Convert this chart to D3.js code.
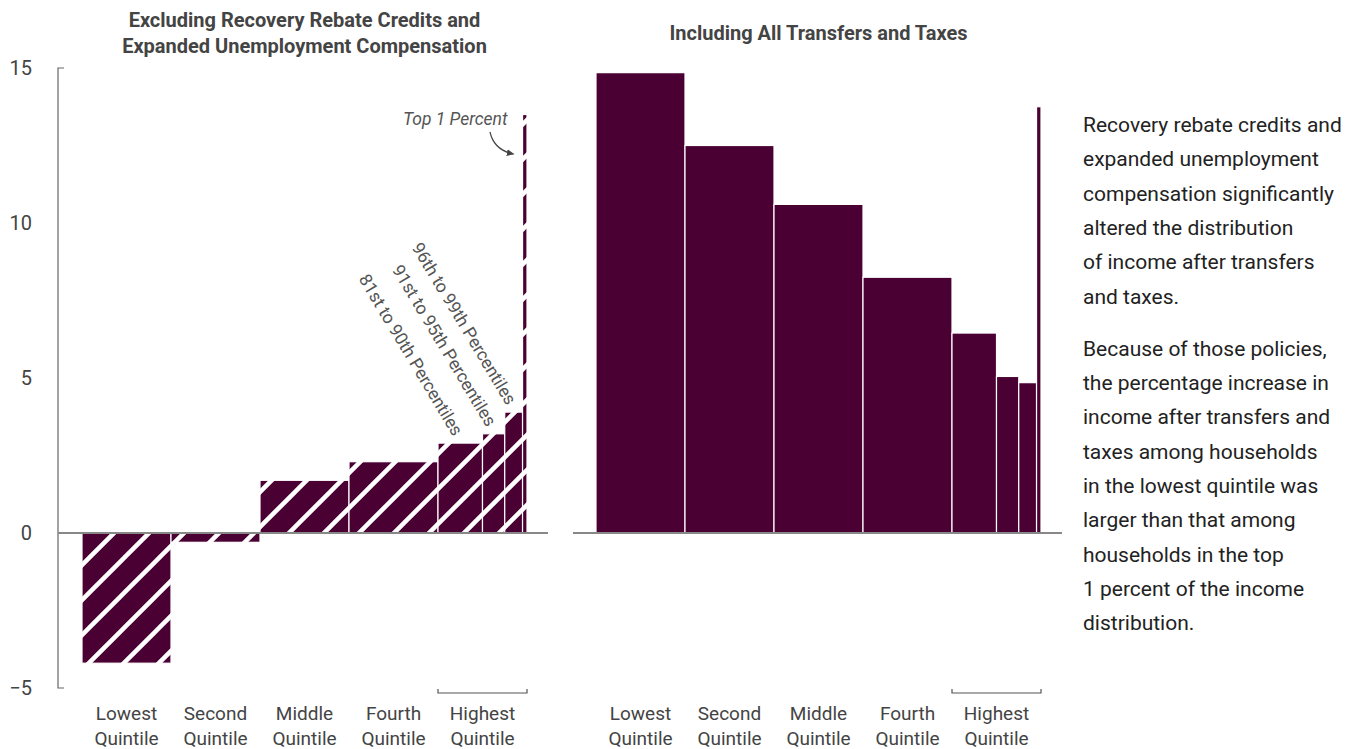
<!DOCTYPE html>
<html>
<head>
<meta charset="utf-8">
<script src="https://cdn.jsdelivr.net/npm/d3@7"></script>
<style>
  body { margin: 0; background: #fff; }
  text { font-family: Roboto, "Noto Sans", sans-serif; }
</style>
</head>
<body>
<div id="chart"></div>
<script>
// income groups, their population shares (percent) and percentage change in income
const quintiles = ['Lowest', 'Second', 'Middle', 'Fourth', 'Highest'];
const segments = ['Lowest', 'Second', 'Middle', 'Fourth',
  '81st to 90th Percentiles', '91st to 95th Percentiles', '96th to 99th Percentiles', 'Top 1 Percent'];
const shares = [20, 20, 20, 20, 10, 5, 4, 1];
const excluding = [-4.2, -0.3, 1.7, 2.3, 2.9, 3.2, 3.9, 13.5];
const including = [14.85, 12.5, 10.6, 8.25, 6.45, 5.05, 4.85, 13.75];
const yTicks = [-5, 0, 5, 10, 15];
const titles = [['Excluding Recovery Rebate Credits and', 'Expanded Unemployment Compensation'],
  ['Including All Transfers and Taxes']];
const note = [
  ['Recovery rebate credits and', 'expanded unemployment', 'compensation significantly',
   'altered the distribution', 'of income after transfers', 'and taxes.'],
  ['Because of those policies,', 'the percentage increase in', 'income after transfers and',
   'taxes among households', 'in the lowest quintile was', 'larger than that among',
   'households in the top', '1 percent of the income', 'distribution.']
];

const W = 1366, H = 749;
const barColor = '#4a0033';
const textColor = '#444';

const svg = d3.select('#chart').append('svg')
  .attr('width', W).attr('height', H);
const defs = svg.append('defs');

const hatch = defs.append('pattern')
  .attr('id', 'hatch')
  .attr('patternUnits', 'userSpaceOnUse')
  .attr('x', 17).attr('y', 0)
  .attr('width', 35).attr('height', 35);
hatch.append('rect').attr('width', 35).attr('height', 35).attr('fill', barColor);
hatch.append('path')
  .attr('d', 'M-5,40 L40,-5 M-5,5 L5,-5 M30,40 L40,30')
  .attr('stroke', '#fff').attr('stroke-width', 4.5);

defs.append('marker')
  .attr('id', 'arrow')
  .attr('viewBox', '0 0 10 10')
  .attr('refX', 8).attr('refY', 5)
  .attr('markerWidth', 7).attr('markerHeight', 7)
  .attr('orient', 'auto')
  .append('path').attr('d', 'M0,1 L9,5 L0,9 Z').attr('fill', '#444');

const y = d3.scaleLinear().domain([-5, 15]).range([688, 68]);

// cumulative positions along 0..100 percent of households
const starts = shares.map((s, i) => d3.sum(shares.slice(0, i)));
const rows = (vals) => segments.map((name, i) => ({name, start: starts[i], share: shares[i], value: vals[i]}));

// y axis
const yAxis = svg.append('g')
  .attr('transform', 'translate(58,0)')
  .call(d3.axisLeft(y).tickValues(yTicks).tickSize(0).tickPadding(26)
    .tickFormat(d => d < 0 ? '\u2212' + Math.abs(d) : d));
yAxis.select('.domain').remove();
yAxis.selectAll('text').attr('font-size', 20).attr('fill', textColor)
  .attr('font-family', 'Roboto, sans-serif');
svg.append('path')
  .attr('d', `M64,${y(15)} H58 V${y(-5)} H64`)
  .attr('fill', 'none').attr('stroke', '#666').attr('stroke-width', 1.2);

function panel(cfg) {
  const x = d3.scaleLinear().domain([0, 100]).range(cfg.range);
  const g = svg.append('g');

  g.selectAll('rect.bar')
    .data(rows(cfg.values))
    .join('rect')
    .attr('class', 'bar')
    .attr('x', d => x(d.start))
    .attr('width', d => x(d.start + d.share) - x(d.start))
    .attr('y', d => y(Math.max(0, d.value)))
    .attr('height', d => Math.abs(y(d.value) - y(0)))
    .attr('fill', cfg.fill)
    .attr('stroke', '#fff').attr('stroke-width', 1.2);

  g.append('line')
    .attr('x1', cfg.zero[0]).attr('x2', cfg.zero[1])
    .attr('y1', y(0)).attr('y2', y(0))
    .attr('stroke', '#888').attr('stroke-width', 2);

  // title
  const cx = (cfg.range[0] + cfg.range[1]) / 2;
  const t = g.append('text')
    .attr('x', cx).attr('text-anchor', 'middle')
    .attr('font-size', 20).attr('font-weight', 700).attr('fill', textColor);
  cfg.title.forEach((line, i) => {
    t.append('tspan').attr('x', cx)
      .attr('y', (cfg.title.length === 1 ? 40 : 27) + i * 26)
      .text(line);
  });

  // quintile labels
  quintiles.forEach((q, i) => {
    const lbl = g.append('text')
      .attr('text-anchor', 'middle').attr('font-size', 19).attr('fill', textColor);
    const c = x(i * 20 + 10);
    lbl.append('tspan').attr('x', c).attr('y', 720).text(q);
    lbl.append('tspan').attr('x', c).attr('y', 745).text('Quintile');
  });

  // bracket under the highest quintile
  g.append('path')
    .attr('d', `M${x(80)},689 V693 H${x(100)} V689`)
    .attr('fill', 'none').attr('stroke', '#555').attr('stroke-width', 1.2);
  return x;
}

const xl = panel({range: [82, 527], zero: [58, 548], values: excluding, fill: 'url(#hatch)', title: titles[0]});
panel({range: [596, 1041], zero: [573, 1062], values: including, fill: barColor, title: titles[1]});

// rotated labels for the top-quintile slices
const slices = rows(excluding).slice(4, 7);
svg.selectAll('text.slice')
  .data(slices)
  .join('text')
  .attr('class', 'slice')
  .attr('transform', d => `translate(${xl(d.start + d.share / 2) - 7},${y(d.value) - 6}) rotate(59)`)
  .attr('text-anchor', 'end')
  .attr('font-family', '"Open Sans", sans-serif')
  .attr('font-size', 17.5).attr('fill', '#555')
  .attr('stroke', '#fff').attr('stroke-width', 3).attr('paint-order', 'stroke')
  .text(d => d.name);

// top 1 percent callout
const top1 = rows(excluding)[7];
svg.append('text')
  .attr('x', xl(top1.start) - 15).attr('y', y(top1.value) + 10)
  .attr('text-anchor', 'end')
  .attr('font-family', '"Open Sans", sans-serif').attr('font-style', 'italic')
  .attr('font-size', 17.5).attr('fill', '#555')
  .text(top1.name);
svg.append('path')
  .attr('d', `M490,132 Q494,150 ${xl(top1.start) - 9},154`)
  .attr('fill', 'none').attr('stroke', '#444').attr('stroke-width', 1.2)
  .attr('marker-end', 'url(#arrow)');

// side note
const noteG = svg.append('g').attr('font-size', 21).attr('fill', '#222');
let ny = 132;
note.forEach((para, p) => {
  para.forEach(line => {
    noteG.append('text').attr('x', 1083).attr('y', ny).text(line);
    ny += 34.3;
  });
  ny += 18;
});
</script>
</body>
</html>
